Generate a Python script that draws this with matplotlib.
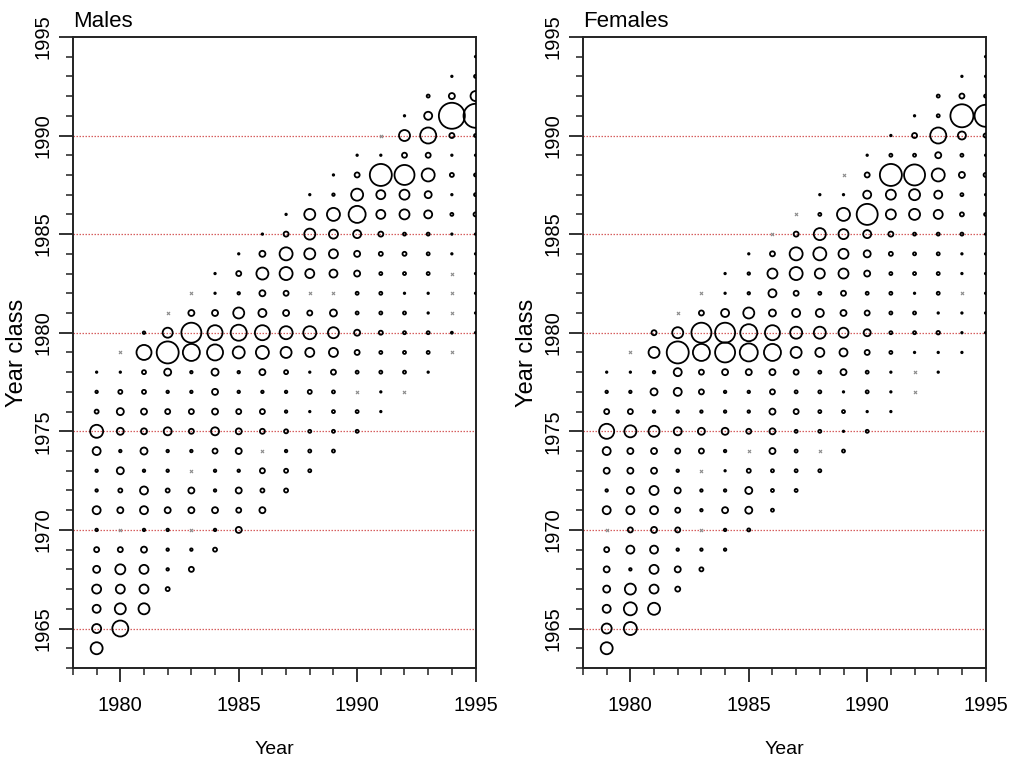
import matplotlib.pyplot as plt
import numpy as np
from matplotlib.ticker import MultipleLocator

plt.rcParams['font.family'] = ['Liberation Sans', 'DejaVu Sans']

# survey years; each row lists ages 1..15 (year class = year - age)
years = list(range(1979, 1996))
ages = list(range(1, 16))

# bubble index per year (0 = none caught, drawn as a cross)
males = [
    [1.5, 2.5, 4, 13, 8, 2.5, 2.5, 8, 2.5, 5, 7, 9, 8, 9, 12],
    [0, 1.5, 4, 7, 7, 2.5, 7, 4, 6, 0, 5, 10, 9, 11, 16],
    [2.5, 15, 4, 4, 6, 6, 7, 2.5, 8, 8, 2.5, 6, 9, 9, 11],
    [0, 10, 22, 7, 2.5, 5, 8, 2.5, 2.5, 4, 6, 2.5, 2.5, 2.5, 4],
    [0, 6, 20, 17, 2.5, 2.5, 5, 5, 2.5, 0, 6, 6, 0, 2.5, 5],
    [1.5, 1.5, 6, 15, 16, 7, 6, 6, 8, 5, 2.5, 2.5, 6, 2.5, 4],
    [1.5, 5, 2.5, 11, 16, 12, 2.5, 2.5, 5, 6, 6, 2.5, 6, 5, 6],
    [1.5, 6, 12, 6, 8, 15, 13, 6, 2.5, 5, 5, 0, 5, 4, 6],
    [1.5, 5, 13, 13, 5, 6, 13, 11, 4, 2.5, 2.5, 4, 2.5, 4, 4],
    [1.5, 11, 11, 11, 9, 0, 5, 13, 9, 1.5, 4, 1.5, 3, 3, 3],
    [1.5, 2.5, 13, 9, 9, 8, 0, 7, 11, 9, 5, 3, 3, 3, 3],
    [1.5, 5, 12, 17, 8, 6, 6, 3, 3, 6, 5, 3, 0, 3, 3],
    [0, 1.5, 22, 9, 9, 5, 4, 3, 3, 3, 4, 3, 3, 1.5, 1.5],
    [1.5, 11, 5, 20, 10, 10, 3, 4, 3, 1.5, 3, 3, 3, 3, 0],
    [3, 8, 16, 5, 13, 7, 8, 3, 3, 3, 1.5, 1.5, 3, 3, 1.5],
    [1.5, 6, 26, 5, 1.5, 4, 1.5, 3, 1.5, 1.5, 0, 0, 0, 2, 0],
    [1.5, 3, 10, 24, 3, 1.5, 3, 3, 4, 1.5, 1.5, 1.5, 1.5, 1.5, 1.5],
]

females = [
    [1.5, 2.5, 5, 15, 8, 6, 2.5, 8, 0, 5, 6, 7, 8, 10, 12],
    [0, 1.5, 2.5, 5, 12, 6, 6, 7, 8, 5, 8, 2.5, 11, 13, 13],
    [5, 11, 2.5, 7, 2.5, 11, 6, 6, 9, 8, 6, 8, 9, 9, 12],
    [0, 11, 22, 8, 8, 2.5, 8, 5, 2.5, 6, 5, 5, 2.5, 6, 5],
    [0, 5, 20, 17, 5, 5, 2.5, 7, 5, 0, 2.5, 2.5, 0, 2.5, 4],
    [1.5, 1.5, 8, 20, 20, 6, 2.5, 2.5, 7, 2.5, 1.5, 2.5, 6, 2.5, 2.5],
    [1.5, 2.5, 2.5, 11, 17, 18, 6, 2.5, 2.5, 5, 0, 4, 7, 7, 3],
    [0, 5, 10, 8, 7, 15, 17, 6, 5, 6, 6, 6, 3, 3, 3],
    [0, 5, 13, 13, 5, 8, 12, 11, 5, 3, 5, 3, 3, 3, 3],
    [1.5, 3, 12, 13, 10, 3, 8, 12, 9, 3, 3, 3, 3, 0, 3],
    [0, 1.5, 13, 10, 10, 10, 5, 6, 10, 8, 6, 1.5, 3, 1.5, 3],
    [1.5, 5, 8, 21, 8, 7, 6, 3, 5, 7, 5, 3, 3, 1.5, 3],
    [1.5, 3, 22, 10, 10, 5, 4, 3, 3, 3, 3, 3, 1.5, 1.5, 1.5],
    [1.5, 5, 3, 21, 11, 11, 3, 3, 3, 1.5, 3, 3, 1.5, 0, 0],
    [3, 3, 16, 6, 13, 8, 9, 3, 3, 3, 3, 1.5, 3.5, 1.5, 1.5],
    [1.5, 5, 23, 8, 3, 6, 3, 4, 3, 1.5, 1.5, 0, 1.5, 1.5, 1.5],
    [1.5, 1.5, 3, 22, 4, 1.5, 4, 1.5, 3, 1.5, 1.5, 1.5, 1.5, 1.5, 1.5],
]

ref_lines = [1965, 1970, 1975, 1980, 1985, 1990]
panels = [('Males', males), ('Females', females)]

fig = plt.figure(figsize=(10.09, 7.64), dpi=100)
lefts = [0.0723, 0.5778]

for (name, vals), left in zip(panels, lefts):
    ax = fig.add_axes([left, 0.1257, 0.399, 0.826])
    v = np.array(vals, dtype=float)
    yr = np.repeat(years, len(ages))
    yc = yr - np.tile(ages, len(years))
    v = v.ravel()

    for h in ref_lines:
        ln = ax.axhline(h, color='#d65f5f', ls=(0, (1.2, 1.2)), lw=0.9, zorder=1)
        ln.set_snap(True)

    pos = v > 0
    ax.scatter(yr[pos], yc[pos], s=(0.72 * v[pos]) ** 2, facecolors='none',
               edgecolors='black', linewidths=1.3, zorder=3)
    ax.scatter(yr[~pos], yc[~pos], s=5, marker='x', color='#8a8a8a',
               linewidths=0.8, zorder=3)

    ax.set_xlim(1978, 1995)
    ax.set_ylim(1963, 1995)
    ax.xaxis.set_major_locator(MultipleLocator(5))
    ax.xaxis.set_minor_locator(MultipleLocator(1))
    ax.yaxis.set_major_locator(MultipleLocator(5))
    ax.yaxis.set_minor_locator(MultipleLocator(1))
    ax.tick_params(which='major', length=10, width=1.3, labelsize=14.5, color='#222222')
    ax.tick_params(which='minor', length=5, width=1.1, color='#222222')
    ax.tick_params(axis='x', which='major', pad=10)
    ax.tick_params(axis='y', which='major', pad=5, labelrotation=90)
    for lab in ax.get_yticklabels():
        lab.set_va('center')
    for sp in ax.spines.values():
        sp.set_linewidth(1.4)
        sp.set_color('#222222')

    ax.set_title(name, loc='left', fontsize=16, pad=7)
    ax.set_xlabel('Year', fontsize=14, labelpad=19)
    ax.set_ylabel('Year class', fontsize=17, labelpad=4)

fig.savefig('out.png', dpi=100)
